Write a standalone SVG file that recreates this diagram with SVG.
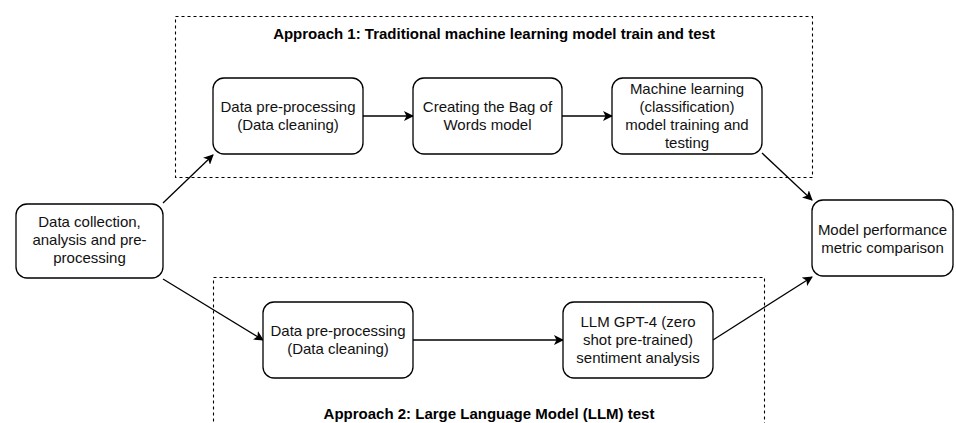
<svg xmlns="http://www.w3.org/2000/svg" width="956" height="423" viewBox="0 0 956 423">
<defs>
<style>
.box{fill:#fff;stroke:#000;stroke-width:1.3}
.grp{fill:none;stroke:#000;stroke-width:1.1;stroke-dasharray:3 3}
.t{font-family:"Liberation Sans",Arial,sans-serif;font-size:15px;fill:#111;text-anchor:middle}
.h{font-family:"Liberation Sans",Arial,sans-serif;font-size:15px;font-weight:bold;fill:#000;text-anchor:middle}
.c{fill:none;stroke:#000;stroke-width:1.3}
</style>
<marker id="a" viewBox="0 0 10 10" refX="9" refY="5" markerWidth="10" markerHeight="10" markerUnits="userSpaceOnUse" orient="auto">
<path d="M0,0 L10,5 L0,10 L2.5,5 Z" fill="#000"/>
</marker>
</defs>
<rect width="956" height="423" fill="#fff"/>
<g id="group1">
<rect class="grp" x="175.5" y="16.5" width="637" height="161"/>
<text class="h" x="494" y="39">Approach 1: Traditional machine learning model train and test</text>
</g>
<g id="group2">
<rect class="grp" x="213.5" y="277.5" width="551" height="160"/>
<text class="h" x="489" y="419">Approach 2: Large Language Model (LLM) test</text>
</g>
<g id="connectors">
<path class="c" marker-end="url(#a)" d="M163,203 L213,155"/>
<path class="c" marker-end="url(#a)" d="M163,279 L263,340"/>
<path class="c" marker-end="url(#a)" d="M363,116 L413,116"/>
<path class="c" marker-end="url(#a)" d="M562,116 L612,116"/>
<path class="c" marker-end="url(#a)" d="M762,153 L812,200"/>
<path class="c" marker-end="url(#a)" d="M413,340 L563,340"/>
<path class="c" marker-end="url(#a)" d="M713,340 L812,277"/>
</g>
<g id="n-collect">
<rect class="box" x="16" y="204" width="147" height="74" rx="11"/>
<text class="t" x="89.5" y="227">Data collection,</text>
<text class="t" x="89.5" y="245">analysis and pre-</text>
<text class="t" x="89.5" y="263">processing</text>
</g>
<g id="n-pre1">
<rect class="box" x="213" y="78" width="150" height="76" rx="11"/>
<text class="t" x="288" y="112">Data pre-processing</text>
<text class="t" x="288" y="130">(Data cleaning)</text>
</g>
<g id="n-bow">
<rect class="box" x="413" y="78" width="149" height="76" rx="11"/>
<text class="t" x="487.5" y="112">Creating the Bag of</text>
<text class="t" x="487.5" y="130">Words model</text>
</g>
<g id="n-ml">
<rect class="box" x="612" y="78" width="150" height="76" rx="11"/>
<text class="t" x="687" y="94">Machine learning</text>
<text class="t" x="687" y="112">(classification)</text>
<text class="t" x="687" y="130">model training and</text>
<text class="t" x="687" y="148">testing</text>
</g>
<g id="n-model">
<rect class="box" x="812" y="200" width="141" height="76" rx="11"/>
<text class="t" x="882.5" y="235">Model performance</text>
<text class="t" x="882.5" y="253">metric comparison</text>
</g>
<g id="n-pre2">
<rect class="box" x="263" y="302" width="150" height="76" rx="11"/>
<text class="t" x="338" y="336">Data pre-processing</text>
<text class="t" x="338" y="354">(Data cleaning)</text>
</g>
<g id="n-llm">
<rect class="box" x="563" y="302" width="150" height="76" rx="11"/>
<text class="t" x="638" y="327">LLM GPT-4 (zero</text>
<text class="t" x="638" y="345">shot pre-trained)</text>
<text class="t" x="638" y="363">sentiment analysis</text>
</g>
</svg>
